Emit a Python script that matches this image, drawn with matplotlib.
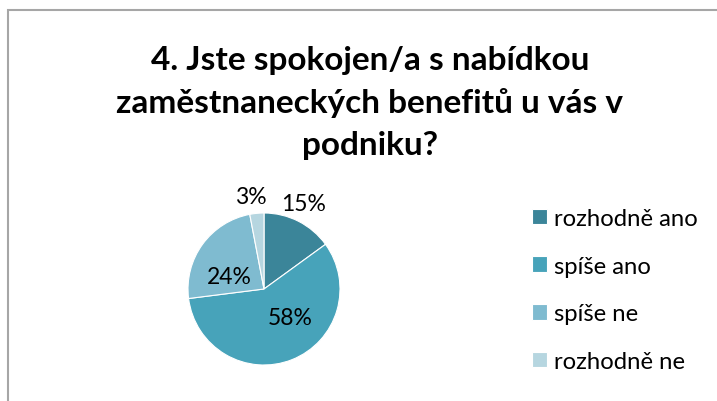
import matplotlib.pyplot as plt
import matplotlib.patches as patches

# Data
categories = ["rozhodně ano", "spíše ano", "spíše ne", "rozhodně ne"]
shares = [15, 58, 24, 3]
pct_labels = ["15%", "58%", "24%", "3%"]
title = "4. Jste spokojen/a s nabídkou\nzaměstnaneckých benefitů u vás v\npodniku?"

colors = ["#3b8599", "#47a3ba", "#7fbbd0", "#b6d6e0"]
# label positions in pie units (radius = 1)
label_pos = [(0.52, 1.13), (0.34, -0.37), (-0.45, 0.17), (-0.17, 1.22)]

W, H = 717, 402
fig = plt.figure(figsize=(W / 100, H / 100), dpi=100)
fig.patch.set_facecolor("white")

# Chart frame (cut off at right and bottom)
fig.add_artist(patches.Rectangle((8 / W, -0.1), 1.2, 1 - 11 / H + 0.1,
                                 transform=fig.transFigure, fill=False,
                                 edgecolor="#a6a6a6", linewidth=1.5))

# Title
fig.text(370 / W, 1 - 103 / H, title, ha="center", va="center",
         fontsize=24, fontweight="bold", family="Lato", linespacing=1.52)

# Pie
cx, cy, r = 264, 290, 76
ax = fig.add_axes([(cx - r) / W, (H - cy - r) / H, 2 * r / W, 2 * r / H])
wedges, _ = ax.pie(shares, colors=colors, startangle=90, counterclock=False,
                   radius=1, wedgeprops=dict(edgecolor="white", linewidth=0.8))
ax.set_xlim(-1, 1)
ax.set_ylim(-1, 1)
ax.set_aspect("equal")
ax.axis("off")

for (x, y), lab in zip(label_pos, pct_labels):
    ax.text(x, y, lab, ha="center", va="center", fontsize=16.5, family="Lato",
            clip_on=False)

# Legend
leg = fig.legend(wedges, categories, loc="center left",
                 bbox_to_anchor=(532 / W, 1 - 291 / H), frameon=False,
                 borderpad=0, borderaxespad=0,
                 prop=dict(family="Lato", size=17.2), handlelength=0.62,
                 handleheight=0.62, handletextpad=0.3, labelspacing=1.12)

fig.savefig("out.png", dpi=100)
